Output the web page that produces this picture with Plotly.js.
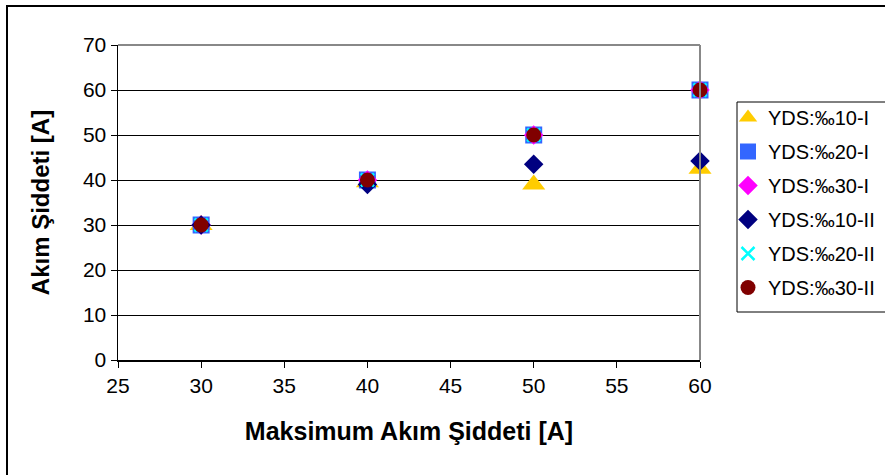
<!DOCTYPE html>
<html>
<head>
<meta charset="utf-8">
<script src="https://cdn.plot.ly/plotly-3.0.1.min.js"></script>
<style>html,body{margin:0;padding:0;background:#fff;}#chart{width:885px;height:475px;}</style>
</head>
<body>
<div id="chart"></div>
<script>
const xValues = [30, 40, 50, 60];
const seriesNames = ["YDS:‰10-I", "YDS:‰20-I", "YDS:‰30-I", "YDS:‰10-II", "YDS:‰20-II", "YDS:‰30-II"];
const yds10I = [30, 39.5, 39, 42.5];
const yds20I = [30, 40, 50, 60];
const yds30I = [30, 40, 50, 60];
const yds10II = [30, 39, 43.5, 44.2];
const yds20II = [30, 40, 50, 60];
const yds30II = [30, 40, 50, 60];
const xTicks = [25, 30, 35, 40, 45, 50, 55, 60];
const yTicks = [0, 10, 20, 30, 40, 50, 60, 70];

const styles = [
  {symbol: "triangle-up", color: "#FFCC00", size: 20},
  {symbol: "square", color: "#3366FF", size: 17},
  {symbol: "diamond", color: "#FF00FF", size: 15},
  {symbol: "diamond", color: "#000080", size: 15},
  {symbol: "x-thin", color: "#00FFFF", size: 13},
  {symbol: "circle", color: "#800000", size: 15}
];
const allY = [yds10I, yds20I, yds30I, yds10II, yds20II, yds30II];
const traces = allY.map((ys, i) => ({
  type: "scatter", mode: "markers", x: xValues, y: ys, name: seriesNames[i],
  legendgroup: "g" + i, cliponaxis: false,
  marker: Object.assign({symbol: styles[i].symbol, color: styles[i].color, size: styles[i].size},
    styles[i].symbol === "x-thin" ? {line: {color: styles[i].color, width: 2.5}} : {line: {width: 0}})
}));

const PX = v => (v - 118) / 582;
const PY = v => (360 - v) / 315;

const layout = {
  width: 885, height: 475,
  margin: {l: 118, r: 185, t: 45, b: 115, autoexpand: false},
  paper_bgcolor: "#fff", plot_bgcolor: "#fff",
  font: {family: "Arial, 'Liberation Sans', sans-serif", color: "#000", size: 21},
  showlegend: true,
  legend: {x: PX(728), y: PY(98), xanchor: "left", yanchor: "top", bgcolor: "rgba(0,0,0,0)",
    borderwidth: 0, font: {size: 20}, tracegroupgap: 5, traceorder: "grouped", itemwidth: 30},
  xaxis: {range: [25, 60], tickvals: xTicks, ticktext: xTicks.map(String), ticks: "outside", ticklen: 6,
    tickcolor: "#000", showgrid: false, zeroline: false, showline: true, linecolor: "#000", linewidth: 1.5,
    tickfont: {size: 21}, title: {text: "<b>Maksimum Akım Şiddeti [A]</b>", font: {size: 25}, standoff: 27}},
  yaxis: {range: [0, 70], tickvals: yTicks, ticktext: yTicks.map(String), ticks: "outside", ticklen: 6,
    tickcolor: "#000", showgrid: true, gridcolor: "#000", gridwidth: 1, zeroline: false, showline: true,
    linecolor: "#000", linewidth: 1.5, tickfont: {size: 21},
    title: {text: "<b>Akım Şiddeti [A]</b>", font: {size: 24}, standoff: 26}},
  shapes: [
    {type: "line", xref: "paper", yref: "paper", x0: 0, x1: 1, y0: 1, y1: 1, line: {color: "#888", width: 2}},
    {type: "line", xref: "paper", yref: "paper", x0: 1, x1: 1, y0: 0, y1: 1, line: {color: "#888", width: 2}},
    {type: "rect", xref: "paper", yref: "paper", x0: PX(737), x1: PX(900), y0: PY(312), y1: PY(102), line: {color: "#000", width: 1}},
    {type: "rect", xref: "paper", yref: "paper", x0: PX(7), x1: PX(900), y0: PY(490), y1: PY(6), line: {color: "#000", width: 2}}
  ]
};
Plotly.newPlot("chart", traces, layout, {displayModeBar: false, staticPlot: true});
</script>
</body>
</html>
